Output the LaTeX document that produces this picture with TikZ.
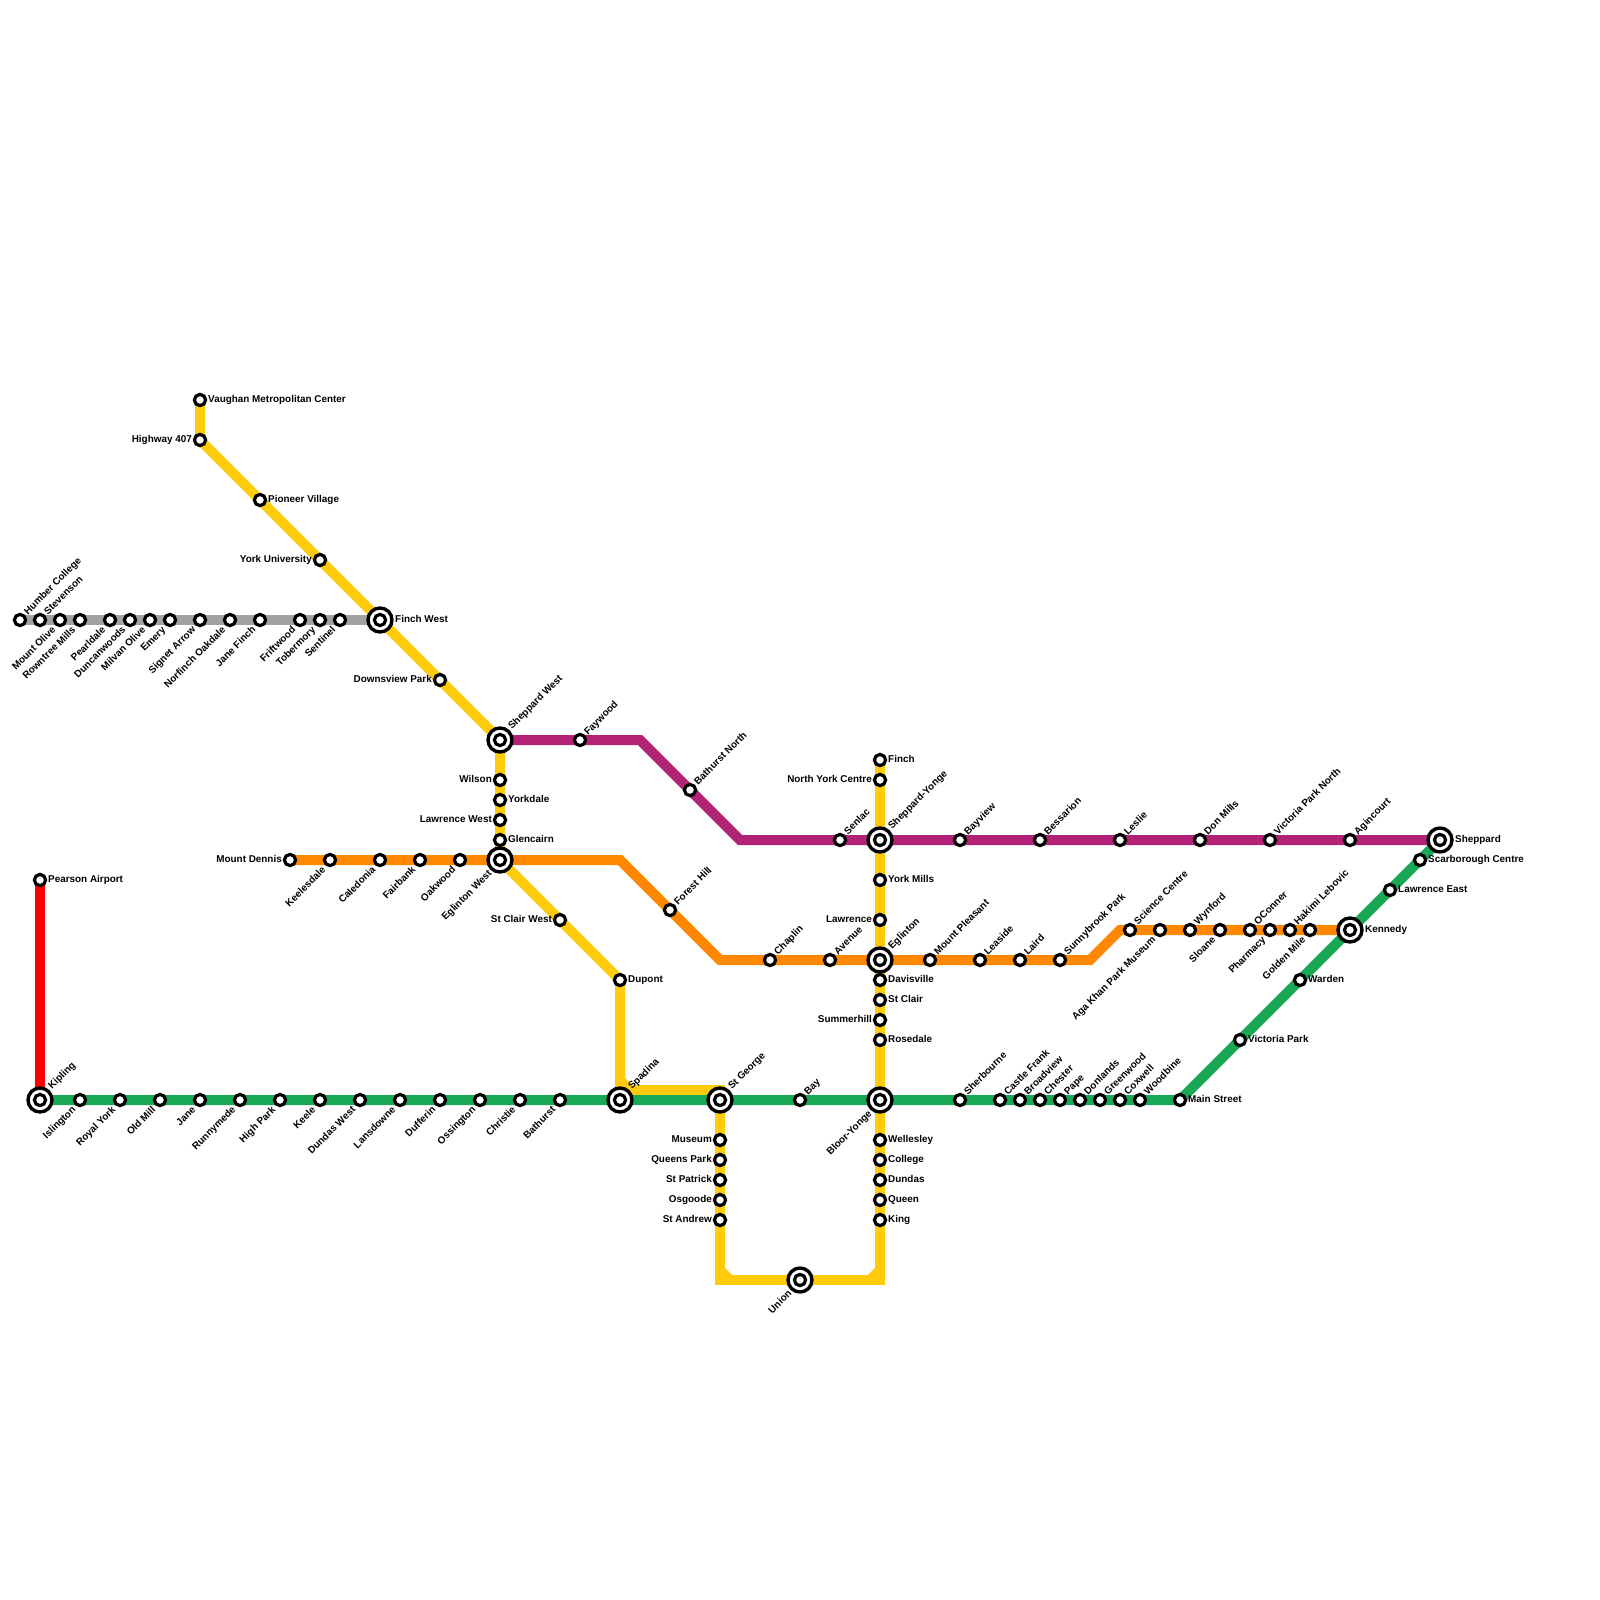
\documentclass[tikz,border=0pt]{standalone}
\usepackage{fontspec}
\setmainfont{Liberation Sans}
\usetikzlibrary{backgrounds}
\definecolor{LineYellow}{HTML}{FFCB0D}
\definecolor{LineGreen}{HTML}{19A855}
\definecolor{LineOrange}{HTML}{FF8800}
\definecolor{LinePurple}{HTML}{B22275}
\definecolor{LineGray}{HTML}{A2A2A2}
\definecolor{LineRed}{HTML}{FF0000}

\begin{document}
\begin{tikzpicture}[x=1pt,y=-1pt,
    track/.style={line width=10pt},
    stopnode/.style={circle,draw=black,fill=white,line width=3.2pt,minimum size=11.2pt,inner sep=0pt},
    hubnode/.style={circle,draw=black,fill=white,line width=3.4pt,minimum size=24pt,inner sep=0pt},
    txt/.style={inner sep=0pt,font=\fontsize{9.9}{12}\selectfont\bfseries},
    txtE/.style={txt,anchor=mid west,xshift=8pt},
    txtW/.style={txt,anchor=mid east,xshift=-8pt},
    txtNE/.style={txt,anchor=mid west,rotate=45,xshift=8.8pt,yshift=0.3pt},
    txtSW/.style={txt,anchor=mid east,rotate=45,xshift=-10pt,yshift=-2pt},
    hubE/.style={txt,anchor=mid west,xshift=15pt},
    hubNE/.style={txt,anchor=mid west,rotate=45,xshift=15.6pt,yshift=1.2pt},
    hubSW/.style={txt,anchor=mid east,rotate=45,xshift=-15.5pt,yshift=-2pt}]
  \useasboundingbox (0,0) rectangle (1600,1600);

  % Interchanges
  \foreach \nm/\x/\y in {kipling/40/1100,spadina/620/1100,stgeorge/720/1100,blooryonge/880/1100,
      union/800/1280,sheppardw/500/740,eglintonw/500/860,finchw/380/620,
      shepyonge/880/840,eglinton/880/960,kennedy/1350/930,sheppard/1440/840} {
    \node[hubnode] (\nm) at (\x,\y) {};
    \node[stopnode] (\nm-in) at (\x,\y) {};
  }
  \foreach \nm/\txt in {finchw/Finch West,kennedy/Kennedy,sheppard/Sheppard}
    \node[hubE] (\nm-t) at (\nm.center) {\txt};
  \foreach \nm/\txt in {kipling/Kipling,spadina/Spadina,stgeorge/St George,sheppardw/Sheppard West,
      shepyonge/Sheppard-Yonge,eglinton/Eglinton}
    \node[hubNE] (\nm-t) at (\nm.center) {\txt};
  \foreach \nm/\txt in {eglintonw/Eglinton West,blooryonge/Bloor-Yonge,union/Union}
    \node[hubSW] (\nm-t) at (\nm.center) {\txt};

  % Stops labelled to the right
  \foreach \nm/\x/\y/\txt in {vaughan/200/400/Vaughan Metropolitan Center,pioneer/260/500/Pioneer Village,
      yorkdale/500/800/Yorkdale,glencairn/500/840/Glencairn,dupont/620/980/Dupont,
      finch/880/760/Finch,yorkmills/880/880/York Mills,davisville/880/980/Davisville,
      stclair/880/1000/St Clair,rosedale/880/1040/Rosedale,wellesley/880/1140/Wellesley,
      college/880/1160/College,dundas/880/1180/Dundas,queen/880/1200/Queen,king/880/1220/King,
      pearson/40/880/Pearson Airport,mainst/1180/1100/Main Street,victoriapark/1240/1040/Victoria Park,
      warden/1300/980/Warden,lawrencee/1390/890/Lawrence East,scarborough/1420/860/Scarborough Centre} {
    \node[stopnode] (\nm) at (\x,\y) {};
    \node[txtE] (\nm-t) at (\nm.center) {\txt};
  }

  % Stops labelled to the left
  \foreach \nm/\x/\y/\txt in {highway/200/440/Highway 407,yorku/320/560/York University,
      downsview/440/680/Downsview Park,wilson/500/780/Wilson,lawrencew/500/820/Lawrence West,
      mountdennis/290/860/Mount Dennis,stclairw/560/920/St Clair West,northyork/880/780/North York Centre,
      lawrence/880/920/Lawrence,summerhill/880/1020/Summerhill,museum/720/1140/Museum,
      queenspark/720/1160/Queens Park,stpatrick/720/1180/St Patrick,osgoode/720/1200/Osgoode,
      standrew/720/1220/St Andrew} {
    \node[stopnode] (\nm) at (\x,\y) {};
    \node[txtW] (\nm-t) at (\nm.center) {\txt};
  }

  % Stops labelled up and right
  \foreach \nm/\x/\y/\txt in {humber/20/620/Humber College,stevenson/40/620/Stevenson,
      faywood/580/740/Faywood,bathurstn/690/790/Bathurst North,senlac/840/840/Senlac,
      bayview/960/840/Bayview,bessarion/1040/840/Bessarion,leslie/1120/840/Leslie,
      donmills/1200/840/Don Mills,vicparkn/1270/840/Victoria Park North,agincourt/1350/840/Agincourt,
      foresthill/670/910/Forest Hill,chaplin/770/960/Chaplin,avenue/830/960/Avenue,
      mountpleasant/930/960/Mount Pleasant,leaside/980/960/Leaside,laird/1020/960/Laird,
      sunnybrook/1060/960/Sunnybrook Park,sciencec/1130/930/Science Centre,wynford/1190/930/Wynford,
      oconner/1250/930/OConner,hakimi/1290/930/Hakimi Lebovic,bay/800/1100/Bay,
      sherbourne/960/1100/Sherbourne,castlefrank/1000/1100/Castle Frank,broadview/1020/1100/Broadview,
      chester/1040/1100/Chester,pape/1060/1100/Pape,donlands/1080/1100/Donlands,
      greenwood/1100/1100/Greenwood,coxwell/1120/1100/Coxwell,woodbine/1140/1100/Woodbine} {
    \node[stopnode] (\nm) at (\x,\y) {};
    \node[txtNE] (\nm-t) at (\nm.center) {\txt};
  }

  % Stops labelled down and left
  \foreach \nm/\x/\y/\txt in {mountolive/60/620/Mount Olive,rowntree/80/620/Rowntree Mills,
      pearldale/110/620/Pearldale,duncanwoods/130/620/Duncanwoods,milvan/150/620/Milvan Olive,
      emery/170/620/Emery,signet/200/620/Signet Arrow,norfinch/230/620/Norfinch Oakdale,
      janefinch/260/620/Jane Finch,friftwood/300/620/Friftwood,tobermory/320/620/Tobermory,
      sentinel/340/620/Sentinel,keelesdale/330/860/Keelesdale,caledonia/380/860/Caledonia,
      fairbank/420/860/Fairbank,oakwood/460/860/Oakwood,agakhan/1160/930/Aga Khan Park Museum,
      sloane/1220/930/Sloane,pharmacy/1270/930/Pharmacy,goldenmile/1310/930/Golden Mile,
      islington/80/1100/Islington,royalyork/120/1100/Royal York,oldmill/160/1100/Old Mill,
      jane/200/1100/Jane,runnymede/240/1100/Runnymede,highpark/280/1100/High Park,
      keele/320/1100/Keele,dundasw/360/1100/Dundas West,lansdowne/400/1100/Lansdowne,
      dufferin/440/1100/Dufferin,ossington/480/1100/Ossington,christie/520/1100/Christie,
      bathurst/560/1100/Bathurst} {
    \node[stopnode] (\nm) at (\x,\y) {};
    \node[txtSW] (\nm-t) at (\nm.center) {\txt};
  }

  % Bends
  \coordinate (purpleA) at (640,740);
  \coordinate (purpleB) at (740,840);
  \coordinate (orangeA) at (620,860);
  \coordinate (orangeB) at (720,960);
  \coordinate (orangeC) at (1090,960);
  \coordinate (orangeD) at (1120,930);
  \coordinate (spadinaTop) at (620,1090);
  \coordinate (spadinaCutA) at (620,1080);
  \coordinate (spadinaCutB) at (630,1090);
  \coordinate (georgeTop) at (720,1090);
  \coordinate (unionL) at (720,1280);
  \coordinate (unionR) at (880,1280);
  \coordinate (cutLA) at (720,1270);
  \coordinate (cutLB) at (730,1280);
  \coordinate (cutRA) at (880,1270);
  \coordinate (cutRB) at (870,1280);

  \begin{scope}[on background layer]
    \fill[white] (0,0) rectangle (1600,1600);
    % Gray line
    \draw[track,LineGray] (humber.center) -- (finchw.center);
    % Red line
    \draw[track,LineRed] (pearson.center) -- (kipling.center);
    % Yellow lines
    \draw[track,LineYellow] (vaughan.center) -- (highway.center) -- (sheppardw.center)
      -- (eglintonw.center) -- (dupont.center) -- (spadina.center);
    \draw[track,LineYellow] (spadinaTop) -- (georgeTop) -- (unionL) -- (unionR) -- (finch.center);
    \draw[track,LineYellow] (spadinaCutA) -- (spadinaCutB);
    \draw[track,LineYellow] (cutLA) -- (cutLB);
    \draw[track,LineYellow] (cutRA) -- (cutRB);
    % Orange line
    \draw[track,LineOrange] (mountdennis.center) -- (orangeA) -- (orangeB) -- (orangeC)
      -- (orangeD) -- (kennedy.center);
    % Purple line
    \draw[track,LinePurple] (sheppardw.center) -- (purpleA) -- (purpleB) -- (sheppard.center);
    % Green line
    \draw[track,LineGreen] (kipling.center) -- (mainst.center) -- (sheppard.center);
  \end{scope}
\end{tikzpicture}
\end{document}
